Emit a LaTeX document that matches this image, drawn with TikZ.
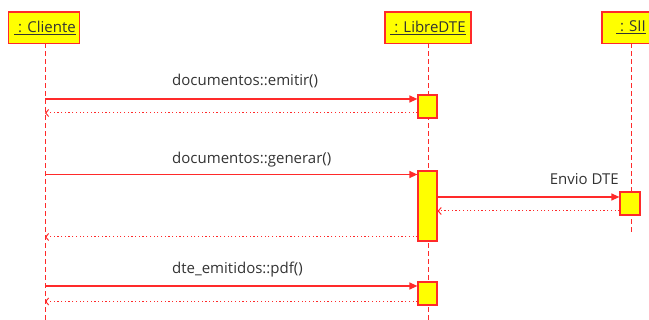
\documentclass[tikz,border=0pt]{standalone}
\usepackage{fontspec}
\setmainfont{Open Sans}
\usetikzlibrary{arrows.meta}
\definecolor{ln}{HTML}{FF2A2A}
\definecolor{bx}{HTML}{FFFF00}
\definecolor{tx}{HTML}{333333}
\begin{document}
\begin{tikzpicture}[x=1pt,y=-1pt,
  every node/.style={font=\fontsize{15}{18}\selectfont, text=tx},
  headbox/.style={draw=ln, fill=bx, line width=1.2pt, inner sep=0pt},
  actbox/.style={draw=ln, fill=bx, line width=1.2pt},
  lifeline/.style={draw=ln, line width=1pt, dash pattern=on 5pt off 3pt},
  callmsg/.style={draw=ln, line width=1.2pt, -{Triangle[length=8pt,width=7pt]}},
  retmsg/.style={draw=ln, line width=1pt, dash pattern=on 1.2pt off 2.5pt, -{Straight Barb[length=3pt,width=7pt]}},
  lbl/.style={anchor=west, inner sep=0pt}
  ]
\useasboundingbox (0,0) rectangle (649,320);
\begin{scope}
\clip (0,0) rectangle (649,320);
% header boxes
\path[headbox] (8.5,12) rectangle (79.5,43.5);
\node[inner sep=0pt] (hc) at (45,27.5) {\underline{\ : Cliente}};
\path[headbox] (385,12) rectangle (471,43.5);
\node[inner sep=0pt] (hl) at (428,27.5) {\underline{\ : LibreDTE}};
\path[headbox] (602,12) rectangle (660,43.5);
\node[inner sep=0pt] (hs) at (631,27.5) {\underline{\ : SII}};
% lifelines
\coordinate (c0) at (45,43.5); \coordinate (c1) at (45,320);
\coordinate (l0) at (428,43.5); \coordinate (l1) at (428,320);
\coordinate (s0) at (631,43.5); \coordinate (s1) at (631,233);
\draw[lifeline] (c0) -- (c1);
\draw[lifeline] (l0) -- (l1);
\draw[lifeline] (s0) -- (s1);
% activations
\node[actbox, minimum width=19pt, minimum height=23pt, inner sep=0pt] (a1) at (427.5,106.5) {};
\node[actbox, minimum width=19pt, minimum height=70pt, inner sep=0pt] (a2) at (427.5,206) {};
\node[actbox, minimum width=19pt, minimum height=23pt, inner sep=0pt] (a3) at (427.5,293.5) {};
\node[actbox, minimum width=20pt, minimum height=23pt, inner sep=0pt] (a4) at (630,203.5) {};
% messages
\coordinate (m1s) at (45,99);
\draw[callmsg] (m1s) -- (m1s -| a1.west);
\coordinate (r1e) at (45,113);
\draw[retmsg] (r1e -| a1.west) -- (r1e);
\node[lbl] (t1) at (172,81) {documentos::emitir()};

\coordinate (m2s) at (45,174.5);
\draw[callmsg] (m2s) -- (m2s -| a2.west);
\node[lbl] (t2) at (172,159.5) {documentos::generar()};

\coordinate (m3s) at (437,197);
\draw[callmsg] (a2.east |- m3s) -- (a4.west |- m3s);
\node[anchor=east, inner sep=0pt] (t3) at (619,179.5) {Envio DTE};
\coordinate (r3e) at (437,211);
\draw[retmsg] (a4.west |- r3e) -- (a2.east |- r3e);

\coordinate (r2e) at (45,237);
\draw[retmsg] (a2.west |- r2e) -- (r2e);

\coordinate (m4s) at (45,286);
\draw[callmsg] (m4s) -- (m4s -| a3.west);
\node[lbl] (t4) at (172,270) {dte\_emitidos::pdf()};
\coordinate (r4e) at (45,301.5);
\draw[retmsg] (r4e -| a3.west) -- (r4e);
\end{scope}
\end{tikzpicture}
\end{document}
